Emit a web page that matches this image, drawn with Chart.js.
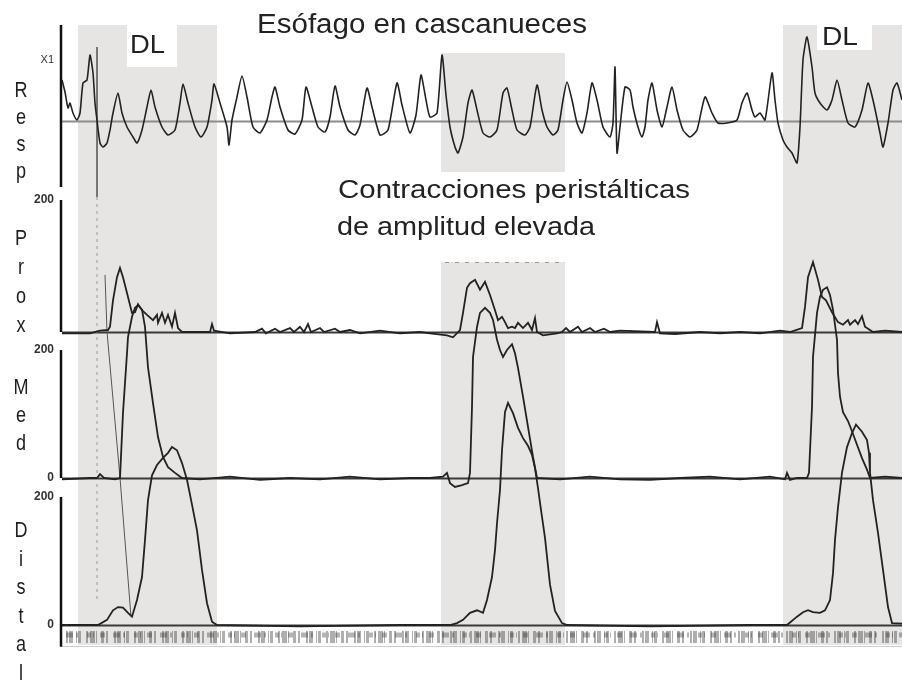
<!DOCTYPE html>
<html>
<head>
<meta charset="utf-8">
<script src="https://cdn.jsdelivr.net/npm/chart.js@4"></script>
<style>
  html, body { margin: 0; padding: 0; background: #fff; }
  #chart { display: block; }
</style>
</head>
<body>
<canvas id="chart" width="902" height="681"></canvas>
<script>
// tiempo en s; Prox/Med/Distal en mmHg; Resp en unidades del registro (X1)
const channelNames = ["Resp", "Prox", "Med", "Distal"];
const swallowStart = [1.6, 37.9, 72.1];
const swallowEnd = [15.5, 50.3, 84];
const swallowLabels = ["DL", "", "DL"];

const respTicks = [61];
const respTickText = ["X1"];
const pressTicks = [200, 0];
const pressTickText = ["200", "0"];

const resp = [
  [0,41],[0.3,29],[0.6,13],[0.8,18],[1.1,8],[1.5,1],[1.8,8],[2.1,38],[2.5,41],[2.8,66],[3.1,48],[3.3,18],[3.5,1],[3.8,-22],[4.1,-26],[4.5,-22],[4.8,-9],[5.1,8],[5.6,28],[6.0,8],[6.5,-6],[7.1,-16],[7.5,-22],[8.0,-9],[8.5,14],[8.9,31],[9.3,14],[10.0,-6],[10.6,-14],[11.3,-9],[11.8,18],[12.1,37],[12.6,18],[13.3,-6],[13.9,-16],[14.5,-6],[15.0,21],[15.2,37],[15.8,18],[16.5,-6],[16.7,-24],[17.0,1],[17.5,24],[18.0,45],[18.5,24],[19.1,-6],[19.8,-12],[20.5,1],[21.0,24],[21.3,34],[21.8,14],[22.6,-9],[23.3,-13],[24.0,1],[24.4,34],[25.0,14],[25.6,-6],[26.3,-11],[26.8,4],[27.3,35],[27.8,14],[28.6,-9],[29.3,-14],[29.8,-4],[30.5,33],[31.0,14],[31.8,-14],[32.6,-9],[33.5,38],[34.0,16],[34.8,-12],[35.4,6],[35.9,46],[36.4,21],[36.8,4],[37.5,8],[38.0,66],[38.4,26],[38.8,-6],[39.3,-26],[39.6,-32],[40.1,-16],[40.6,18],[41.0,31],[41.5,11],[42.1,-12],[42.8,-16],[43.5,-9],[44.1,28],[44.5,33],[45.0,11],[45.5,-9],[46.3,-14],[46.8,-6],[47.5,36],[48.0,11],[48.5,-6],[49.1,-14],[49.6,-9],[50.1,21],[50.5,39],[51.0,21],[51.5,-2],[52.0,-12],[52.5,8],[53.0,38],[53.5,21],[54.1,-6],[54.8,-16],[55.1,-2],[55.3,54],[55.5,-32],[55.8,-6],[56.3,34],[56.8,31],[57.1,14],[57.6,-6],[58.0,-16],[58.3,-6],[58.6,21],[59.0,38],[59.5,11],[60.0,-6],[60.5,14],[61.0,34],[61.5,11],[62.1,-9],[62.8,-16],[63.5,-9],[64.3,24],[65.0,8],[65.6,-2],[66.5,-2],[67.5,1],[68.0,18],[68.5,28],[69.0,11],[69.3,4],[69.8,8],[70.3,1],[71.0,48],[71.3,21],[71.6,-2],[72.1,-19],[72.5,-26],[73.0,-32],[73.5,-42],[73.8,-6],[74.1,61],[74.5,84],[75.0,54],[75.3,28],[75.8,18],[76.5,11],[77.0,21],[77.5,41],[78.0,21],[78.6,-2],[79.3,-6],[80.0,11],[80.6,38],[81.1,21],[81.8,-12],[82.1,-26],[82.6,-2],[83.1,31],[83.5,38],[84.0,21]
];

const prox = [
  [0,-2],[2.8,-2],[3.8,2],[4.6,3],[4.8,8],[5.1,48],[5.5,83],[5.8,97],[6.1,83],[6.5,59],[7.0,29],[7.3,30],[7.6,42],[8.0,33],[8.5,26],[9.1,18],[9.5,26],[9.6,14],[10.0,29],[10.3,14],[10.6,26],[11.0,8],[11.3,29],[11.6,6],[12.0,0],
  [13.8,0],[14.8,0],[15.0,12],[15.2,2],[16.8,-2],[19.3,0],[20.0,5],[20.4,-2],[21.3,5],[21.8,0],[22.8,6],[23.2,0],[23.8,8],[24.2,0],[24.6,12],[24.9,0],[25.8,6],[26.2,0],[27.3,5],[27.8,0],[28.8,3],[29.8,-2],[31.8,2],[33.8,-2],[35.8,0],[36.8,-2],
  [38.5,-5],[39.1,-8],[39.8,3],[40.1,29],[40.5,67],[40.8,74],[41.3,79],[41.8,64],[42.3,76],[42.8,56],[43.3,33],[43.6,18],[44.0,23],[44.3,15],[44.6,6],[45.0,8],[45.3,6],[45.6,14],[46.1,6],[46.6,14],[47.0,3],[47.3,21],[47.5,0],[48.1,-5],[49.5,-2],
  [50.0,0],[50.4,6],[50.8,0],[51.6,8],[52.0,0],[52.8,6],[53.3,0],[54.2,5],[54.8,0],[55.8,2],[59.3,0],[59.5,15],[59.8,-2],[61.3,-3],[63.8,0],[65.8,-2],[67.8,0],[69.8,-2],[71.8,2],[72.8,0],[74.0,6],
  [74.3,38],[74.6,83],[75.1,106],[75.6,79],[76.0,53],[76.4,48],[77.0,30],[77.6,15],[78.1,11],[78.6,18],[78.8,11],[79.3,18],[79.6,12],[80.0,24],[80.3,8],[81.1,0],[82.3,2],[84,0]
];

const med = [
  [0,-2],[2.8,0],[3.5,0],[3.8,6],[4.2,0],[5.3,-2],[5.8,0],[6.1,102],[6.5,195],[6.6,220],[7.0,252],[7.3,266],[7.6,270],[8.0,263],[8.3,236],[8.6,173],[9.1,117],[9.6,64],[10.1,33],[10.6,17],[11.3,8],[12.0,0],
  [13.8,-2],[16.8,2],[19.8,-3],[22.8,0],[25.8,-2],[28.8,2],[31.8,-2],[34.8,0],[36.8,0],[38.1,2],
  [38.5,8],[38.8,-8],[39.3,-14],[40.0,-11],[40.6,-8],[40.8,8],[41.0,111],[41.1,189],[41.5,236],[41.8,258],[42.3,266],[42.8,258],[43.1,247],[43.5,216],[43.8,200],[44.1,189],[44.5,200],[45.0,209],[45.3,195],[45.6,172],[46.1,127],[46.6,80],[47.1,33],[47.5,0],
  [49.8,-2],[52.8,2],[55.8,-2],[58.8,-3],[61.8,0],[64.8,2],[67.8,-2],[70.8,2],[72.3,-2],[72.5,8],[72.8,-3],[73.5,0],[74.5,0],
  [74.7,8],[75.0,111],[75.1,189],[75.5,258],[75.8,283],[76.1,294],[76.5,298],[76.8,286],[77.1,263],[77.5,216],[77.6,164],[77.8,127],[78.1,103],[78.6,89],[79.0,73],[79.5,52],[80.0,31],[80.5,13],[80.8,0],[82.3,2],[84,0]
];

const distal = [
  [0,0],[3.6,0],[4.5,8],[5.1,23],[5.6,28],[6.1,27],[6.6,19],[7.0,13],[7.5,39],[8.0,75],[8.3,133],[8.6,195],[9.0,234],[9.5,250],[10.1,261],[10.6,269],[11.0,278],[11.5,273],[12.0,253],[12.5,227],[13.0,188],[13.5,148],[14.0,86],[14.5,34],[15.0,5],[15.5,0],
  [23.8,-2],[33.8,0],
  [38.8,0],[39.5,3],[40.1,8],[40.8,19],[41.5,23],[42.1,19],[42.5,39],[43.0,75],[43.3,117],[43.5,159],[43.8,211],[44.0,273],[44.3,333],[44.6,347],[45.1,331],[45.6,308],[46.1,292],[46.6,280],[47.0,266],[47.3,245],[47.6,214],[47.9,180],[48.3,136],[48.8,63],[49.3,22],[50.0,3],[50.5,0],
  [58.8,-2],[68.8,0],
  [72.5,0],[73.5,13],[74.1,20],[74.6,23],[75.1,20],[75.8,19],[76.3,23],[76.8,39],[77.1,81],[77.3,133],[77.6,184],[78.0,238],[78.5,278],[79.0,300],[79.4,313],[80.0,302],[80.5,289],[80.7,269],[80.8,238],[81.1,195],[81.6,144],[82.1,86],[82.6,28],[83.0,3],[84,2]
];

// artefacto de la deglución (trazos finos)
const markerSolid = [[3.5,74],[3.5,-76]];
const markerDashed = [[3.5,-76],[3.5,-479]];
const artefact = [[4.3,547],[4.5,458],[5.8,230],[6.9,13]];

// ---- layout ----
const H = 681;
const panels = {
  yResp: { zeroPx: 121, refPx: 58, refVal: 63, span: [96, -66] },
  yProx: { zeroPx: 332, refPx: 200, refVal: 200, span: [200, 0] },
  yMed: { zeroPx: 478, refPx: 350, refVal: 200, span: [200, 0] },
  yDist: { zeroPx: 625, refPx: 497, refVal: 200, span: [200, -34] },
};
const letterTop = { yResp: 97, yProx: 245, yMed: 394, yDist: 537 };
const letterStep = { yResp: 27, yProx: 29, yMed: 28, yDist: 28.6 };
const bandRows = [[[25, 645]], [[53, 172], [262, 645]], [[25, 645]]];
const FONT = "'Liberation Sans', Arial, sans-serif";

const yScales = {};
Object.entries(panels).forEach(([id, p]) => {
  const u = p.refVal / (p.zeroPx - p.refPx);
  yScales[id] = { type: "linear", display: false, min: -(H - p.zeroPx) * u, max: p.zeroPx * u };
});

const toXY = (arr) => arr.map(([x, y]) => ({ x, y }));
const trace = (label, data, axis, extra) =>
  Object.assign({ label, data: toXY(data), yAxisID: axis, borderColor: "#222", borderWidth: 1.8,
    pointRadius: 0, tension: 0, fill: false }, extra || {});

const fitText = (ctx, text, x0, x1, base, font) => {
  ctx.font = font;
  const w = ctx.measureText(text).width;
  ctx.save();
  ctx.translate(x0, base);
  ctx.scale((x1 - x0) / w, 1);
  ctx.fillText(text, 0, 0);
  ctx.restore();
};

const paper = {
  id: "paper",
  beforeDraw(chart) {
    const { ctx } = chart;
    ctx.save();
    ctx.fillStyle = "#fff";
    ctx.fillRect(0, 0, chart.width, chart.height);
    ctx.restore();
  },
  beforeDatasetsDraw(chart) {
    const { ctx, chartArea, scales } = chart;
    ctx.save();
    // bandas de deglución
    ctx.fillStyle = "rgb(231,229,227)";
    swallowStart.forEach((s, i) => {
      const x0 = scales.x.getPixelForValue(s);
      const x1 = scales.x.getPixelForValue(swallowEnd[i]);
      bandRows[i].forEach(([y0, y1]) => ctx.fillRect(x0, y0, x1 - x0, y1 - y0));
    });
    // línea punteada superior de la banda central
    ctx.strokeStyle = "#9a9a9a";
    ctx.lineWidth = 1;
    ctx.setLineDash([4, 6]);
    ctx.beginPath();
    ctx.moveTo(scales.x.getPixelForValue(swallowStart[1]) + 4, 262.5);
    ctx.lineTo(scales.x.getPixelForValue(swallowEnd[1]) - 4, 262.5);
    ctx.stroke();
    // tira de eventos inferior
    ctx.strokeStyle = "rgba(55,55,55,0.4)";
    ctx.lineWidth = 12;
    ctx.setLineDash([2, 1, 4, 3, 1, 1, 3, 5, 2, 2, 5, 1, 1, 4, 3, 2, 2, 6]);
    ctx.beginPath();
    ctx.moveTo(chartArea.left + 4, 637);
    ctx.lineTo(chartArea.right, 637);
    ctx.stroke();
    ctx.strokeStyle = "rgba(40,40,40,0.35)";
    ctx.lineWidth = 5;
    ctx.setLineDash([7, 3, 2, 9, 4, 2, 1, 6, 5, 8]);
    ctx.beginPath();
    ctx.moveTo(chartArea.left + 4, 635);
    ctx.lineTo(chartArea.right, 635);
    ctx.stroke();
    ctx.setLineDash([]);
    ctx.strokeStyle = "rgba(0,0,0,0.2)";
    ctx.lineWidth = 1;
    ctx.beginPath();
    ctx.moveTo(chartArea.left, 646.5);
    ctx.lineTo(chartArea.right, 646.5);
    ctx.stroke();
    // líneas de cero
    Object.keys(panels).forEach((id) => {
      const y = Math.round(scales[id].getPixelForValue(0)) + 0.5;
      ctx.strokeStyle = id === "yResp" ? "#8c8c8c" : "#3a3a3a";
      ctx.lineWidth = 2;
      ctx.beginPath();
      ctx.moveTo(chartArea.left, y);
      ctx.lineTo(chartArea.right, y);
      ctx.stroke();
    });
    ctx.restore();
  },
  afterDatasetsDraw(chart) {
    const { ctx, chartArea, scales } = chart;
    ctx.save();
    // ejes verticales y etiquetas
    Object.entries(panels).forEach(([id, p], k) => {
      const sc = scales[id];
      ctx.strokeStyle = "#111";
      ctx.lineWidth = 2.5;
      ctx.beginPath();
      ctx.moveTo(chartArea.left - 1, sc.getPixelForValue(p.span[0]));
      ctx.lineTo(chartArea.left - 1, sc.getPixelForValue(p.span[1]));
      ctx.stroke();

      ctx.fillStyle = "#333";
      ctx.textAlign = "right";
      ctx.textBaseline = "middle";
      if (id === "yResp") {
        ctx.font = "11px " + FONT;
        respTicks.forEach((v, i) => ctx.fillText(respTickText[i], 54, sc.getPixelForValue(v)));
      } else {
        ctx.font = "bold 12px " + FONT;
        pressTicks.forEach((v, i) => {
          if (id === "yProx" && v === 0) return;
          ctx.fillText(pressTickText[i], 54, sc.getPixelForValue(v));
        });
      }

      ctx.fillStyle = "#1e1e1e";
      ctx.textAlign = "center";
      ctx.textBaseline = "alphabetic";
      ctx.font = "22px " + FONT;
      channelNames[k].split("").forEach((ch, i) => {
        ctx.save();
        ctx.translate(21, letterTop[id] + i * letterStep[id]);
        ctx.scale(0.82, 1);
        ctx.fillText(ch, 0, 0);
        ctx.restore();
      });
    });

    // rótulos DL
    ctx.textAlign = "left";
    swallowLabels.forEach((lab, i) => {
      if (!lab) return;
      const xs = scales.x.getPixelForValue(swallowStart[i]);
      const box = i === 0 ? [xs + 49, 25, 50, 42, xs + 52, xs + 87, 53] : [xs + 34, 25, 55, 25, xs + 39, xs + 75, 45];
      ctx.fillStyle = "#fff";
      ctx.fillRect(box[0], box[1], box[2], box[3]);
      ctx.fillStyle = "#222";
      fitText(ctx, lab, box[4], box[5], box[6], "26px " + FONT);
    });

    // textos
    ctx.fillStyle = "#222";
    fitText(ctx, "Esófago en cascanueces", 257, 587, 33, "27px " + FONT);
    fitText(ctx, "Contracciones peristálticas", 338, 690, 198, "26px " + FONT);
    fitText(ctx, "de amplitud elevada", 337, 595, 235, "26px " + FONT);
    ctx.restore();
  }
};

const ctx = document.getElementById("chart").getContext("2d");
const chart = new Chart(ctx, {
  type: "line",
  data: {
    datasets: [
      trace("Resp", resp, "yResp", { borderWidth: 1.6, tension: 0.2 }),
      trace("Prox", prox, "yProx"),
      trace("Med", med, "yMed"),
      trace("Distal", distal, "yDist"),
      trace("marca", markerSolid, "yResp", { borderColor: "#666", borderWidth: 1 }),
      trace("marca2", markerDashed, "yResp", { borderColor: "#999", borderWidth: 1, borderDash: [3, 4] }),
      trace("artefacto", artefact, "yDist", { borderColor: "#555", borderWidth: 1 }),
    ],
  },
  options: {
    responsive: false,
    animation: false,
    layout: { padding: { left: 62, right: 0, top: 0, bottom: 0 } },
    plugins: { legend: { display: false }, tooltip: { enabled: false } },
    scales: Object.assign({
      x: { type: "linear", display: false, min: 0, max: 84 },
    }, yScales),
  },
  plugins: [paper],
});
</script>
</body>
</html>
